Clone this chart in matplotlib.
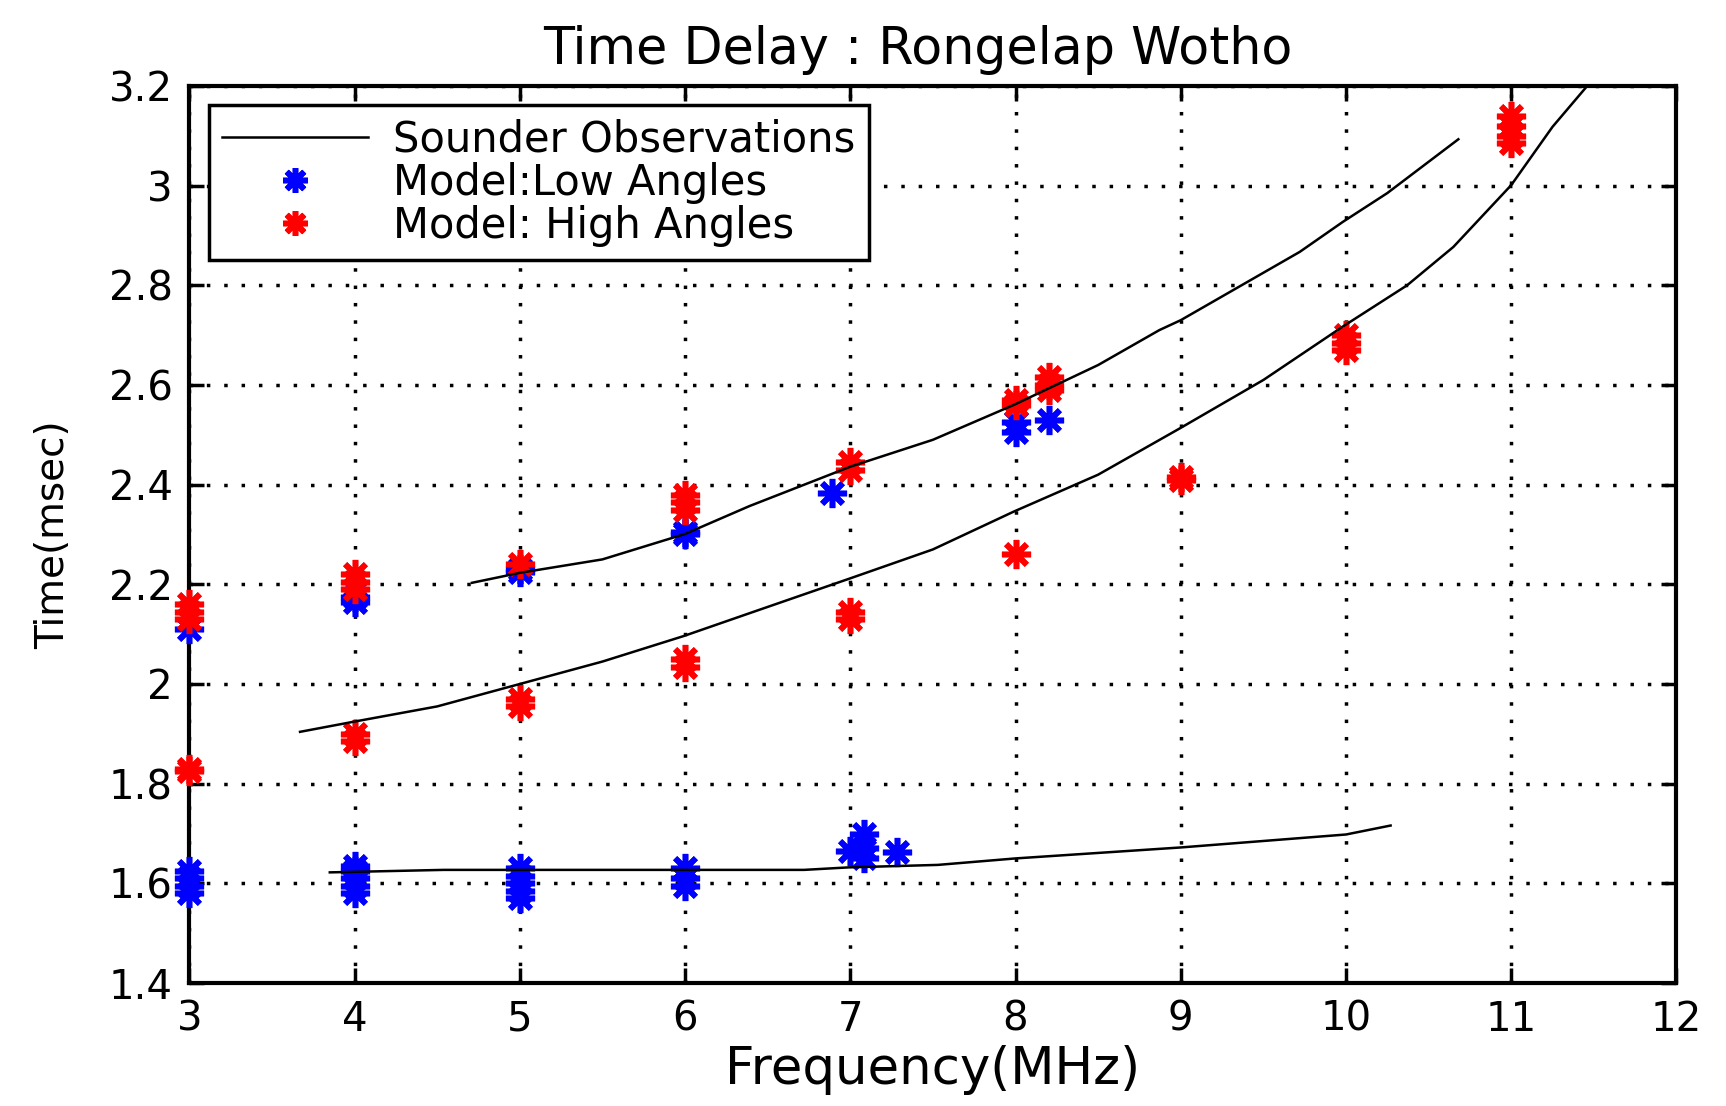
import matplotlib
matplotlib.use("Agg")
from matplotlib import pyplot as plt

# Sounder observations (three traces)
obs1_f = [4.71, 5.0, 5.5, 6.0, 6.39, 7.0, 7.5, 7.99, 8.5, 8.87, 9.0, 9.72, 9.98, 10.25, 10.68]
obs1_t = [2.203, 2.223, 2.25, 2.301, 2.357, 2.436, 2.49, 2.56, 2.64, 2.71, 2.73, 2.867, 2.927, 2.985, 3.093]
obs2_f = [3.67, 3.99, 4.5, 5.0, 5.5, 5.99, 6.39, 7.0, 7.5, 7.99, 8.5, 8.995, 9.5, 9.98, 10.37, 10.65, 11.0, 11.25, 11.46]
obs2_t = [1.904, 1.924, 1.955, 2.0, 2.045, 2.096, 2.142, 2.212, 2.27, 2.346, 2.42, 2.513, 2.61, 2.717, 2.80, 2.877, 3.001, 3.118, 3.2]
obs3_f = [3.85, 4.54, 6.72, 6.99, 7.53, 8.0, 9.0, 10.0, 10.27]
obs3_t = [1.622, 1.627, 1.627, 1.632, 1.637, 1.650, 1.672, 1.698, 1.716]

# Model: low angles
low_f = [3, 3, 3, 3, 3,
         4, 4, 4, 4, 4, 4, 4,
         5, 5, 5, 5, 5, 5, 5,
         6, 6, 6, 6, 6,
         6.89, 7.0, 7.08, 7.08, 7.08, 7.28,
         8, 8, 8.2]
low_t = [1.58, 1.595, 1.61, 1.625, 2.11,
         1.58, 1.595, 1.61, 1.625, 1.635, 2.165, 2.175,
         1.57, 1.585, 1.60, 1.615, 1.63, 2.225, 2.23,
         1.595, 1.61, 1.63, 2.30, 2.305,
         2.383, 1.665, 1.65, 1.67, 1.70, 1.662,
         2.505, 2.525, 2.53]

# Model: high angles
high_f = [3, 3, 3, 3, 3,
          4, 4, 4, 4, 4,
          5, 5, 5,
          6, 6, 6, 6, 6,
          7, 7, 7, 7,
          8, 8, 8,
          8.2, 8.2, 8.2,
          9, 9,
          10, 10, 10,
          11, 11, 11, 11]
high_t = [1.825, 1.83, 2.13, 2.145, 2.16,
          1.885, 1.90, 2.19, 2.205, 2.22,
          1.955, 1.97, 2.24,
          2.035, 2.05, 2.35, 2.365, 2.38,
          2.13, 2.145, 2.43, 2.445,
          2.26, 2.56, 2.57,
          2.59, 2.60, 2.615,
          2.41, 2.415,
          2.67, 2.685, 2.70,
          3.085, 3.10, 3.12, 3.14]

xticks = [3, 4, 5, 6, 7, 8, 9, 10, 11, 12]
yticks = [1.4, 1.6, 1.8, 2, 2.2, 2.4, 2.6, 2.8, 3, 3.2]
ytick_labels = ["1.4", "1.6", "1.8", "2", "2.2", "2.4", "2.6", "2.8", "3", "3.2"]

plt.rcParams['font.family'] = ['DejaVu Sans']

fig = plt.figure(figsize=(17.26, 11.06), dpi=100)
ax = fig.add_axes([0.1097, 0.1112, 0.8616, 0.8111])

star = (8, 2, 0)
h_low, = ax.plot(low_f, low_t, linestyle="none", marker=star, markersize=21,
                 markeredgewidth=4, color="#0000ff", label="Model:Low Angles",
                 zorder=3, clip_on=False)
h_high, = ax.plot(high_f, high_t, linestyle="none", marker=star, markersize=21,
                  markeredgewidth=4, color="#ff0000", label="Model: High Angles",
                  zorder=4, clip_on=False)
h_obs, = ax.plot(obs1_f, obs1_t, color="k", linewidth=1.8, label="Sounder Observations", zorder=5)
ax.plot(obs2_f, obs2_t, color="k", linewidth=1.8, zorder=5)
ax.plot(obs3_f, obs3_t, color="k", linewidth=1.8, zorder=5)

ax.set_xlim(3, 12)
ax.set_ylim(1.4, 3.2)
ax.set_xticks(xticks)
ax.set_yticks(yticks)
ax.set_yticklabels(ytick_labels)
ax.tick_params(direction="in", length=11, width=2.5, labelsize=29,
               top=True, right=True, pad=12)
for s in ax.spines.values():
    s.set_linewidth(3)
ax.grid(True, color="k", linestyle=(0, (1, 4)), linewidth=2.5)
ax.set_axisbelow(True)

ax.set_title("Time Delay : Rongelap Wotho", fontsize=36.5, pad=16, x=0.49)
ax.set_xlabel("Frequency(MHz)", fontsize=37, labelpad=4)
ax.set_ylabel("Time(msec)", fontsize=28, labelpad=26)

leg = ax.legend(handles=[h_obs, h_low, h_high], loc="upper left",
                bbox_to_anchor=(0.0132, 0.9788), borderaxespad=0,
                fontsize=30, frameon=True,
                fancybox=False, framealpha=1, edgecolor="k", handlelength=3.5,
                labelspacing=0.03, borderpad=0.32, handletextpad=0.6,
                markerscale=0.85)
leg.get_frame().set_linewidth(2.5)

fig.savefig("out.png", dpi=100)
